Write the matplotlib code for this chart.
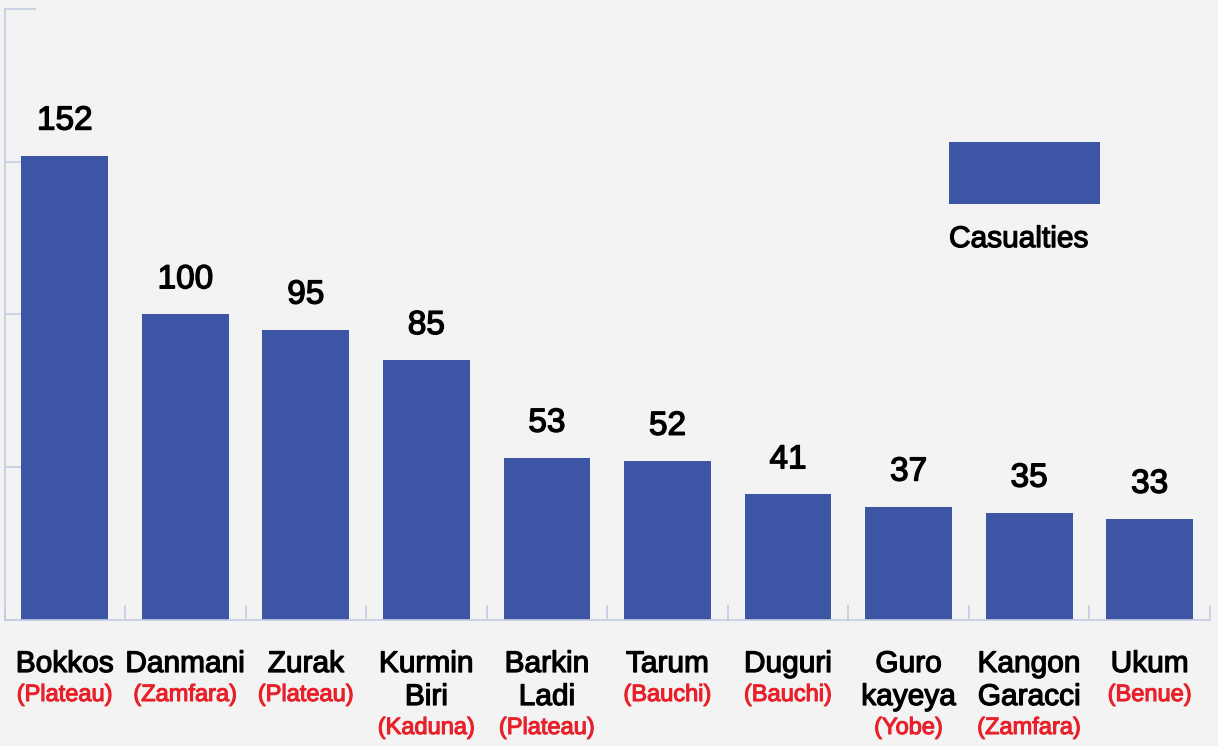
import matplotlib
matplotlib.use("Agg")
import matplotlib.pyplot as plt
from matplotlib.patches import Rectangle
import matplotlib.patheffects as pe

places = ["Bokkos", "Danmani", "Zurak", "Kurmin\nBiri", "Barkin\nLadi",
          "Tarum", "Duguri", "Guro\nkayeya", "Kangon\nGaracci", "Ukum"]
states = ["(Plateau)", "(Zamfara)", "(Plateau)", "(Kaduna)", "(Plateau)",
          "(Bauchi)", "(Bauchi)", "(Yobe)", "(Zamfara)", "(Benue)"]
casualties = [152, 100, 95, 85, 53, 52, 41, 37, 35, 33]
series_name = "Casualties"

BG = "#f3f3f3"
BAR = "#3c55a5"
AXC = "#c4cce3"
RED = "#e8202a"
FONT = ["Liberation Sans", "DejaVu Sans"]

plt.rcParams["font.family"] = FONT


def thick(color, w=0.9):
    return [pe.withStroke(linewidth=w, foreground=color)]


fig = plt.figure(figsize=(12.18, 7.46), dpi=100, facecolor=BG)
ax = fig.add_axes([4.5 / 1218, (746 - 619.5) / 746, 1205.5 / 1218, 610.5 / 746])
ax.set_facecolor(BG)

x = list(range(len(casualties)))
ax.bar(x, casualties, width=0.72, color=BAR, zorder=2)

ax.set_xlim(-0.5, len(casualties) - 0.5)
ax.set_ylim(0, 200)

for s in ["top", "right"]:
    ax.spines[s].set_visible(False)
for s in ["left", "bottom"]:
    ax.spines[s].set_color(AXC)
    ax.spines[s].set_linewidth(1.2)

ax.set_yticks([0, 50, 100, 150, 200])
ax.set_yticklabels([])
ax.tick_params(axis="y", direction="in", length=22, width=1.2, color=AXC)
ax.set_xticks([i - 0.5 for i in range(len(casualties) + 1)])
ax.set_xticklabels([])
ax.tick_params(axis="x", direction="in", length=11, width=1.2, color=AXC)

# value labels
for xi, v in zip(x, casualties):
    ax.annotate(str(v), xy=(xi, v), xytext=(0, 26), textcoords="offset pixels",
                ha="center", va="baseline", fontsize=24, color="black",
                path_effects=thick("black", 1.0))

# category labels
for xi, name, st in zip(x, places, states):
    lines = name.split("\n")
    base = -52.5
    for k, ln in enumerate(lines):
        ax.annotate(ln, xy=(xi, 0), xycoords=("data", "axes fraction"),
                    xytext=(0, base - 33 * k), textcoords="offset pixels",
                    ha="center", va="baseline", fontsize=21.5, color="black",
                    annotation_clip=False, path_effects=thick("black", 0.9))
    ax.annotate(st, xy=(xi, 0), xycoords=("data", "axes fraction"),
                xytext=(0, base - 33 * (len(lines) - 1) - 29), textcoords="offset pixels",
                ha="center", va="baseline", fontsize=17, color=RED,
                annotation_clip=False, path_effects=thick(RED, 0.8))

# legend
ax.add_patch(Rectangle((0.7835, 0.6806), 0.1253, 0.1016, transform=ax.transAxes,
                       facecolor=BAR, edgecolor="none", zorder=3))
ax.text(0.7835, 0.610, series_name, transform=ax.transAxes, ha="left",
        va="baseline", fontsize=21.5, color="black",
        path_effects=thick("black", 0.9))

fig.savefig("out.png", dpi=100, facecolor=BG)
